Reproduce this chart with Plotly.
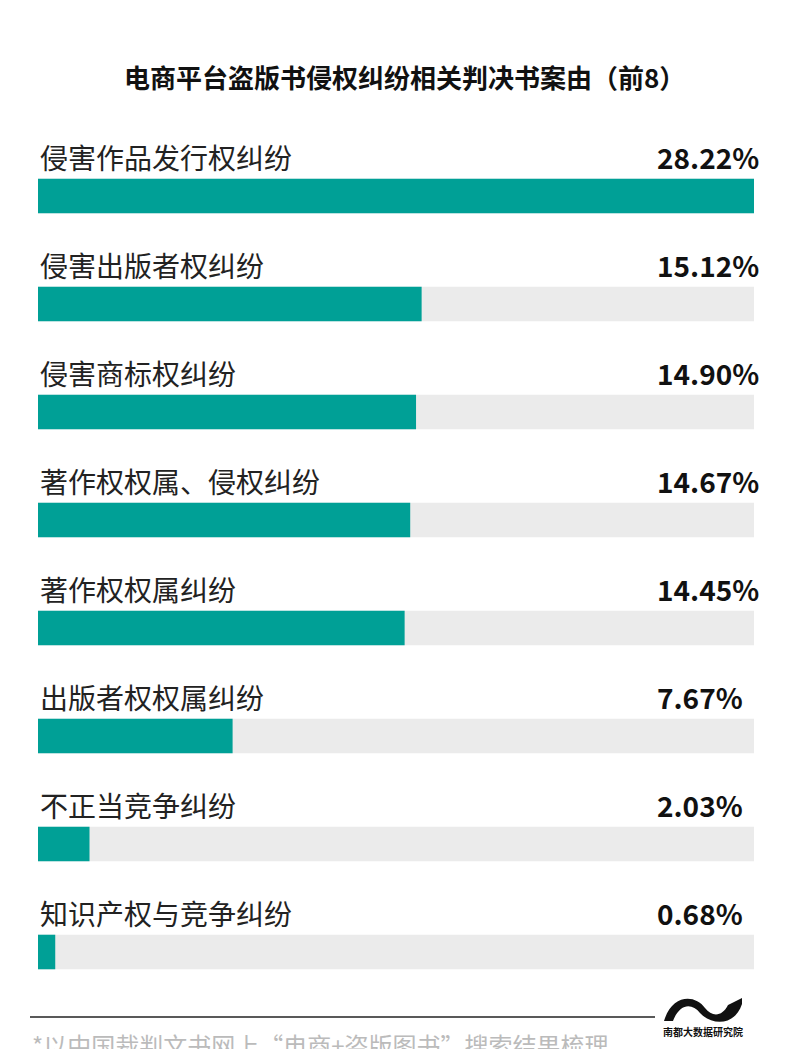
import plotly.graph_objects as go

categories = ["侵害作品发行权纠纷", "侵害出版者权纠纷", "侵害商标权纠纷", "著作权权属、侵权纠纷",
              "著作权权属纠纷", "出版者权权属纠纷", "不正当竞争纠纷", "知识产权与竞争纠纷"]
values = [28.22, 15.12, 14.90, 14.67, 14.45, 7.67, 2.03, 0.68]
value_labels = ["28.22%", "15.12%", "14.90%", "14.67%", "14.45%", "7.67%", "2.03%", "0.68%"]

W, H = 800, 1049
OFF = 8  # page offset in the screenshot
xmax = max(values)
# pixel mapping: x 0 -> 38px, xmax -> 754px ; row i center -> 196 + 108*i px
x0p, x1p = 38 - OFF, 754 - OFF
px_per = (x1p - x0p) / xmax
x_range = [-x0p / px_per, (W - x0p) / px_per]
c0 = 196 - OFF
y_range = [(H - c0) / 108, -c0 / 108]
idx = list(range(len(categories)))

fig = go.Figure()
fig.add_trace(go.Bar(x=[xmax] * len(idx), y=idx, orientation="h", width=0.32,
                     marker=dict(color="#ebebeb", line_width=0), hoverinfo="skip"))
fig.add_trace(go.Bar(x=values, y=idx, orientation="h", width=0.32,
                     marker=dict(color="#00a096", line_width=0)))

def px(p):
    return (p - OFF) / W

def py(p):
    return 1 - (p - OFF) / H

ann = []
for i, (c, v) in enumerate(zip(categories, value_labels)):
    ann.append(dict(x=0, y=i - 0.36, xref="x", yref="y", text=c, showarrow=False,
                    xanchor="left", yanchor="middle",
                    font=dict(size=28, color="#222222", family="Noto Sans CJK SC")))
    ann.append(dict(x=(655 - 38) / px_per, y=i - 0.36, xref="x", yref="y", text="<b>" + v + "</b>",
                    showarrow=False, xanchor="left", yanchor="middle",
                    font=dict(size=28, color="#111111", family="Noto Sans CJK SC")))
ann.append(dict(x=px(404), y=py(77), xref="paper", yref="paper", showarrow=False,
                text="<b>电商平台盗版书侵权纠纷相关判决书案由（前8）</b>", xanchor="center", yanchor="middle",
                font=dict(size=26, color="#111111", family="Noto Sans CJK SC")))
ann.append(dict(x=px(30), y=py(1044), xref="paper", yref="paper", showarrow=False,
                text="*以中国裁判文书网上“电商+盗版图书”搜索结果梳理", xanchor="left", yanchor="middle",
                font=dict(size=24, color="#bbbbbb", family="Noto Sans CJK SC")))
ann.append(dict(x=px(703), y=py(1031), xref="paper", yref="paper", showarrow=False,
                text="<b>南都大数据研究院</b>", xanchor="center", yanchor="middle",
                font=dict(size=10, color="#111111", family="Noto Sans CJK SC")))

shapes = [
    dict(type="line", xref="paper", yref="paper", x0=px(30), x1=px(655), y0=py(1017), y1=py(1017),
         line=dict(color="#222222", width=1.5)),
    dict(type="path", xref="paper", yref="paper",
         path=f"M {px(664)} {py(1021)} C {px(672)} {py(994)}, {px(695)} {py(994)}, {px(705)} {py(1008)} "
              f"C {px(712)} {py(1017)}, {px(722)} {py(1017)}, {px(728)} {py(1005)} L {px(742)} {py(998)} "
              f"L {px(742)} {py(1004)} C {px(735)} {py(1026)}, {px(712)} {py(1026)}, {px(700)} {py(1013)} "
              f"C {px(692)} {py(1003)}, {px(680)} {py(1003)}, {px(673)} {py(1021)} Z",
         fillcolor="#111111", line=dict(width=0)),
]

fig.update_layout(width=W, height=H, margin=dict(l=0, r=0, t=0, b=0),
                  paper_bgcolor="white", plot_bgcolor="white", barmode="overlay",
                  showlegend=False, annotations=ann, shapes=shapes,
                  xaxis=dict(range=x_range, visible=False, fixedrange=True),
                  yaxis=dict(range=y_range, visible=False, fixedrange=True))
fig.write_html("out.html")
